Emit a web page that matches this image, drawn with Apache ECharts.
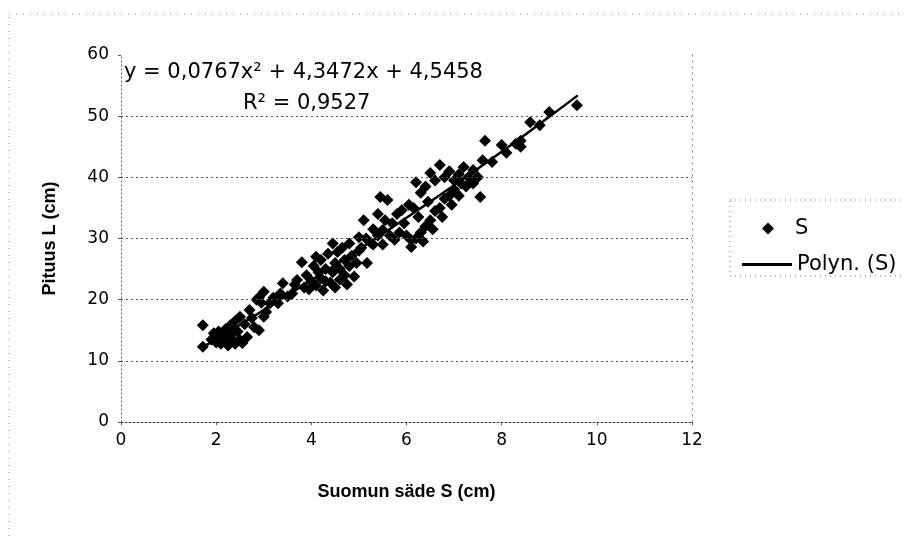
<!DOCTYPE html>
<html><head><meta charset="utf-8">
<script src="https://cdn.jsdelivr.net/npm/echarts@6/dist/echarts.min.js"></script>
<style>html,body{margin:0;padding:0;background:#fff}#c{width:904px;height:538px}</style>
</head><body><div id="c"></div>
<script>
// Scatter data S (scale radius, cm) and L (length, cm)
const sX = [1.72,1.72,1.9,1.95,2.0,2.05,2.1,2.15,2.2,2.2,2.25,2.3,2.35,2.4,2.45,2.5,2.55,2.65,2.0,2.3,2.4,
  2.5,2.6,2.7,2.75,2.8,2.9,2.9,3.0,2.95,3.05,3.13,3.2,3.3,3.35,3.4,3.5,2.85,3.0,
  3.6,3.65,3.7,3.8,3.85,3.9,3.95,4.0,4.05,4.1,4.15,4.2,4.2,4.25,4.3,4.35,4.4,4.45,4.45,4.5,4.5,4.55,4.6,4.6,4.65,4.7,4.7,4.75,4.8,4.8,4.85,4.9,4.95,5.0,4.3,4.1,
  5.05,5.1,5.15,5.17,5.25,5.3,5.4,5.4,5.45,5.5,5.5,5.55,5.6,5.65,5.7,5.75,5.8,5.85,5.9,5.95,6.0,6.05,6.1,6.1,5.3,5.0,
  6.2,6.3,6.4,6.5,6.6,6.7,6.8,6.9,7.0,7.1,7.2,6.45,
  6.2,6.3,6.35,6.4,6.5,6.55,6.6,6.7,6.75,6.8,6.9,6.95,7.0,7.1,7.15,7.25,7.3,7.4,7.4,7.5,7.55,6.25,6.15,
  7.6,7.65,7.8,8.0,8.1,8.3,8.4,8.4,8.6,8.8,9.0,9.58];
const sY = [15.8,12.3,13.5,14.5,13.0,14.8,12.8,14.0,13.2,15.2,12.5,14.3,13.5,12.8,14.8,13.4,12.9,13.9,14.0,15.8,16.5,
  17.2,16.0,18.3,17.0,15.5,15.0,20.4,17.2,19.5,18.0,19.4,20.3,19.4,21.0,22.7,20.5,20.0,21.3,
  21.0,22.5,23.2,26.1,22.0,24.0,21.7,23.0,25.5,22.3,24.5,26.5,23.5,21.5,25.0,27.5,22.8,29.2,24.5,26.0,22.0,27.8,25.0,23.3,28.5,26.5,24.0,22.5,29.2,25.5,27.2,23.8,26.0,28.0,23.0,27.0,
  28.5,33.0,30.0,26.0,29.3,31.5,34.0,30.5,36.8,31.4,29.0,33.0,36.3,30.5,32.5,29.8,34.0,31.0,34.6,32.5,30.5,35.5,29.7,28.6,29.0,30.2,
  39.2,37.5,38.5,40.7,39.5,42.0,40.0,41.0,39.5,40.5,41.7,36.0,
  30.0,31.0,29.5,32.0,33.0,31.5,34.5,35.0,33.5,36.5,37.0,35.5,38.0,37.0,39.0,38.5,40.0,41.2,39.0,40.0,36.8,33.5,35.0,
  42.8,46.0,42.5,45.3,44.0,45.5,46.0,45.0,49.0,48.5,50.7,51.8];
// Trend line (Polyn. (S)) points
const trendX = [1.7, 2, 3, 4, 5, 6, 7, 8, 9, 9.6];
const trendY = [12.2, 13.5, 18.3, 23.2, 28.2, 33.4, 38.7, 44.2, 49.9, 53.4];
const xTicks = {min: 0, max: 12, interval: 2};
const yTicks = {min: 0, max: 60, interval: 10};
const gridValues = [10, 20, 30, 40, 50];
const eqLine1 = 'y = 0,0767x² + 4,3472x + 4,5458';
const eqLine2 = 'R² = 0,9527';

const scatterData = sX.map((x, i) => [x, sY[i]]);
const trendData = trendX.map((x, i) => [x, trendY[i]]);
const tickFont = {fontFamily: 'DejaVu Sans', fontSize: 17, color: '#000'};
const chart = echarts.init(document.getElementById('c'), null, {renderer: 'canvas'});
chart.setOption({
  animation: false,
  backgroundColor: '#fff',
  grid: {left: 121, right: 212, top: 55, bottom: 116},
  xAxis: {
    type: 'value', min: xTicks.min, max: xTicks.max, interval: xTicks.interval,
    name: 'Suomun säde S (cm)', nameLocation: 'middle', nameGap: 61,
    nameTextStyle: {fontFamily: 'Liberation Sans', fontWeight: 'bold', fontSize: 18, color: '#000'},
    axisLine: {show: true, lineStyle: {color: '#333', type: [2, 2], width: 1}},
    axisTick: {show: true, length: 3, lineStyle: {color: '#555'}},
    axisLabel: Object.assign({margin: 10}, tickFont),
    splitLine: {show: false}
  },
  yAxis: [{
    type: 'value', min: yTicks.min, max: yTicks.max, interval: yTicks.interval,
    name: 'Pituus L (cm)', nameLocation: 'middle', nameGap: 62,
    nameTextStyle: {fontFamily: 'Liberation Sans', fontWeight: 'bold', fontSize: 18, color: '#000'},
    axisLine: {show: true, lineStyle: {color: '#555', type: [1, 3], width: 1}},
    axisTick: {show: true, length: 3, lineStyle: {color: '#555'}},
    axisLabel: Object.assign({margin: 12}, tickFont),
    splitLine: {show: false}
  }, {
    type: 'value', min: yTicks.min, max: yTicks.max, interval: yTicks.interval, position: 'right',
    axisLine: {show: true, lineStyle: {color: '#777', type: [1, 5], width: 1}},
    axisTick: {show: false}, axisLabel: {show: false}, splitLine: {show: false}
  }],
  legend: [{
    data: [{name: 'S', icon: 'diamond'}], left: 757, top: 213, itemWidth: 12, itemHeight: 12,
    textStyle: {fontFamily: 'DejaVu Sans', fontSize: 21, color: '#000', padding: [0, 0, 0, 16]}
  }, {
    data: [{name: 'Polyn. (S)', icon: 'rect'}], left: 737, top: 249, itemWidth: 50, itemHeight: 3,
    textStyle: {fontFamily: 'DejaVu Sans', fontSize: 21, color: '#000'}
  }],
  graphic: [
    {type: 'rect', shape: {x: 9, y: 14, width: 900, height: 530}, silent: true,
     style: {fill: 'none', stroke: '#888', lineWidth: 1, lineDash: [1, 6]}},
    {type: 'rect', shape: {x: 730, y: 200, width: 180, height: 76}, silent: true,
     style: {fill: 'none', stroke: '#777', lineWidth: 1, lineDash: [1, 4]}},
    {type: 'text', left: 124, top: 62, silent: true,
     style: {text: eqLine1, font: '21px "DejaVu Sans"', fill: '#000'}},
    {type: 'text', left: 243, top: 93, silent: true,
     style: {text: eqLine2, font: '21px "DejaVu Sans"', fill: '#000'}}
  ],
  series: [{
    name: 'S', type: 'scatter', data: scatterData, symbol: 'diamond', symbolSize: 12,
    itemStyle: {color: '#000', opacity: 1},
    markLine: {
      silent: true, symbol: 'none', label: {show: false},
      lineStyle: {color: '#555', type: [2, 3], width: 1},
      data: gridValues.map(v => ({yAxis: v}))
    }
  }, {
    name: 'Polyn. (S)', type: 'line', data: trendData, smooth: true, symbol: 'none',
    lineStyle: {color: '#000', width: 2.5}, itemStyle: {color: '#000'}, z: 3
  }]
});
</script></body></html>
